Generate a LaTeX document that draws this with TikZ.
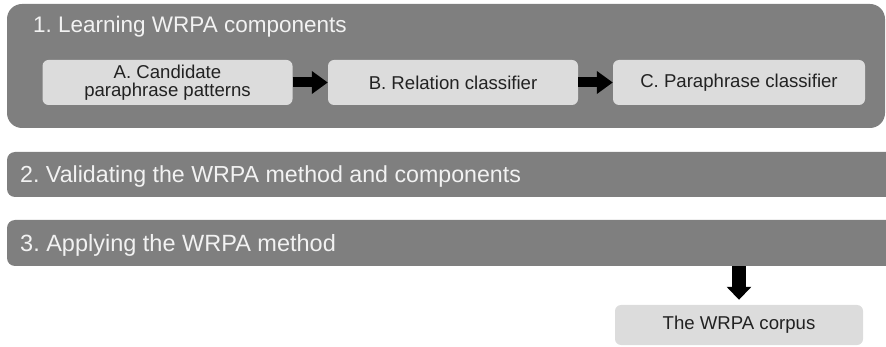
\documentclass[tikz,border=0pt]{standalone}
\usepackage{fontspec}
\setmainfont{Liberation Sans}
\frenchspacing
\usetikzlibrary{arrows.meta,calc}
\definecolor{paneldark}{HTML}{7F7F7F}
\definecolor{boxlight}{HTML}{DCDCDC}
\definecolor{boxtext}{HTML}{222222}
\definecolor{titletext}{HTML}{F2F2F2}
\tikzset{
  panel/.style={fill=paneldark, draw=none, rounded corners=15pt, inner sep=0pt},
  bar/.style={fill=paneldark, draw=none, rounded corners=8pt, inner sep=0pt},
  titlelabel/.style={text=titletext, font=\fontsize{22.5}{26}\selectfont, inner sep=0pt, anchor=base west},
  stepbox/.style={fill=boxlight, draw=none, rounded corners=6pt, inner sep=0pt,
    text=boxtext, font=\fontsize{18.6}{17.5}\selectfont, align=center},
  blockarrow/.style={line width=10pt, -{Triangle[length=16pt,width=22pt]}},
  downarrow/.style={line width=14pt, -{Triangle[length=13pt,width=24pt]}},
}
\begin{document}
\begin{tikzpicture}[x=1pt,y=-1pt]
\useasboundingbox (0,0) rectangle (886,347);
% panel 1
\node[panel, minimum width=878pt, minimum height=124pt] (p1) at (446,66) {};
\node[titlelabel] (t1) at (33,33) {1. Learning WRPA components};
\node[stepbox, minimum width=250pt, minimum height=45pt] (A) at (167.5,82.5) {A. Candidate\\paraphrase patterns};
\node[stepbox, minimum width=250pt, minimum height=45pt] (B) at (453,82.5) {B. Relation classifier};
\node[stepbox, minimum width=252pt, minimum height=45pt] (C) at (739,82.5) {C. Paraphrase classifier};
\draw[blockarrow] (A.east) -- (B.west);
\draw[blockarrow] (B.east) -- (C.west);
% bar 2
\node[bar, minimum width=890pt, minimum height=45pt] (p2) at (452,174.5) {};
\node[titlelabel, font=\fontsize{23.2}{26}\selectfont] (t2) at (20,183) {2. Validating the WRPA method and components};
% bar 3
\node[bar, minimum width=890pt, minimum height=46pt] (p3) at (452,243) {};
\node[titlelabel, font=\fontsize{23.5}{26}\selectfont] (t3) at (20,251.5) {3. Applying the WRPA method};
% corpus
\node[stepbox, minimum width=248pt, minimum height=40pt] (D) at (739,325) {The WRPA corpus};
\draw[downarrow, shorten >=5pt] (D.north |- p3.south) -- (D.north);
\end{tikzpicture}
\end{document}
